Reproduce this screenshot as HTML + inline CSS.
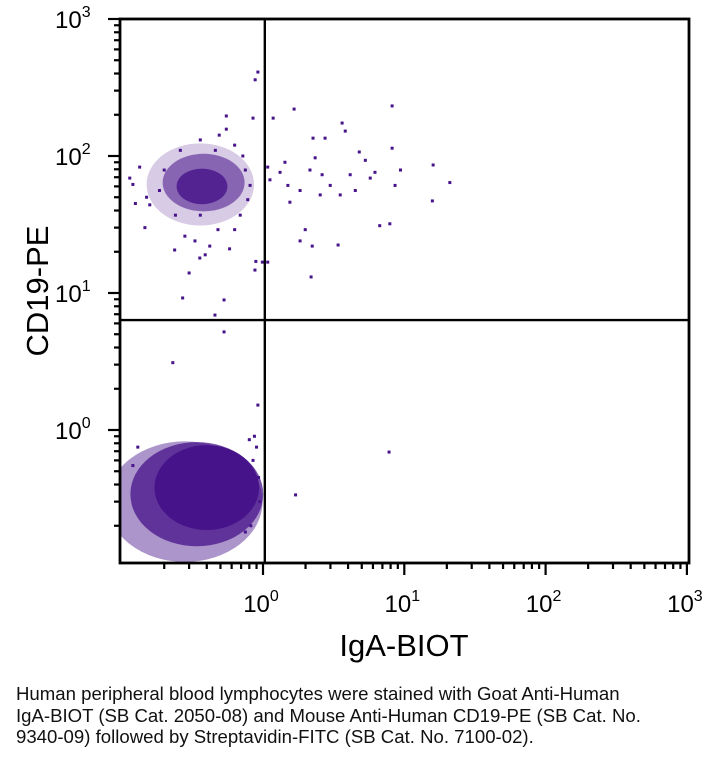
<!DOCTYPE html>
<html><head><meta charset="utf-8"><style>
html,body{margin:0;padding:0;background:#fff;}
body{width:716px;height:757px;overflow:hidden;position:relative;font-family:"Liberation Sans","DejaVu Sans",sans-serif;}
.cap{position:absolute;left:16px;top:683px;font-size:18.6px;line-height:21.5px;color:#111;width:700px;white-space:nowrap;}
</style></head><body>
<svg id="chart" width="716" height="680" style="position:absolute;left:0;top:0" font-family="Liberation Sans, DejaVu Sans, sans-serif"></svg>
<div class="cap">Human peripheral blood lymphocytes were stained with Goat Anti-Human<br>IgA-BIOT (SB Cat. 2050-08) and Mouse Anti-Human CD19-PE (SB Cat. No.<br>9340-09) followed by Streptavidin-FITC (SB Cat. No. 7100-02).</div>
<script>
// ---- data ----
const xTickExps = [0, 1, 2, 3];
const yTickExps = [0, 1, 2, 3];
const gateX = 1.03;
const gateY = 6.35;
// dense populations summarised as ellipses (center in data units, radii in decades, opacity)
const popCx = [0.28, 0.34, 0.40, 0.36, 0.38, 0.37];
const popCy = [0.30, 0.34, 0.38, 62, 64, 60];
const popRx = [0.55, 0.47, 0.37, 0.38, 0.29, 0.18];
const popRy = [0.44, 0.38, 0.31, 0.30, 0.21, 0.13];
const popOp = [0.45, 0.75, 1.0, 0.22, 0.55, 0.8];
// individual events
const evX = [8.2,1.66,1.18,3.63,3.82,2.26,2.75,8.2,4.8,5.3,16,21,15.8,7.9,6.7,1.99,2.23,3.4,2.19,1.83,1.55,2.15,2.99,4.14,5.74,1.83,1.32,1.5,2.54,3.52,4.5,6.2,9.4,8.6,1.43,1.08,1.12,2.34,2.62,0.99,1.08,1.7,7.8,0.53,0.457,0.53,0.23,0.92,0.877,0.89,0.55,0.85,0.55,0.36,0.49,0.92,0.88,
 0.114,0.134,0.146,0.158,0.15,0.237,0.28,0.357,0.42,0.48,0.36,0.63,0.69,0.78,0.81,0.75,0.63,0.46,0.26,0.2,0.185,0.24,0.33,0.39,0.58,0.12,0.125,0.72,0.3,0.27,
 0.87,0.9,0.8,0.85,0.93,0.95,0.13,0.12,0.75,0.82];
const evY = [232,220,189,174,152,135,135,114,107,93,86,64,47,32,31,29,22,22.4,13.1,24,46,79,61,73,69,56,76,61,52,52,56,76,79,61,90,83,67,97,73,16.8,16.8,0.336,0.69,8.9,6.9,5.2,3.1,1.52,14.7,17,196,189,157,131,142,410,360,
 69,83,30,44,50,20.6,26,18,22,29,37,29,37,48,61,79,120,110,110,79,56,37,24,19,21,62,45,100,14,9.2,
 0.9,0.75,0.85,0.6,0.45,0.3,0.75,0.55,0.18,0.2];

// ---- scales ----
const X0=120,X1=689,Y0=19,Y1=563;
const xpx=v=>263+Math.log10(v)*141.3;
const ypx=v=>430-Math.log10(v)*137;
const NS="http://www.w3.org/2000/svg";
const svg=document.getElementById('chart');
function mk(t,a,p){const e=document.createElementNS(NS,t);for(const k in a)e.setAttribute(k,a[k]);(p||svg).appendChild(e);return e;}
const COL="#47138a";

const defs=mk('defs',{});
const cp=mk('clipPath',{id:'plotclip'},defs);
mk('rect',{x:X0,y:Y0,width:X1-X0,height:Y1-Y0},cp);
const g=mk('g',{'clip-path':'url(#plotclip)'});



for(let i=0;i<popCx.length;i++){
  const cx=xpx(popCx[i]),cy=ypx(popCy[i]);
  const e=mk('ellipse',{cx:cx,cy:cy,rx:popRx[i]*141.3,ry:popRy[i]*137,fill:COL,'fill-opacity':popOp[i]},g);
  
  
}
for(let i=0;i<evX.length;i++){
  const r=mk('rect',{x:xpx(evX[i])-1.5,y:ypx(evY[i])-1.5,width:3,height:3,fill:COL},g);
  
  
}

// quadrant gates
const gv=mk('line',{x1:xpx(gateX),x2:xpx(gateX),y1:Y0,y2:Y1,stroke:'#000','stroke-width':2.4});


const gh=mk('line',{x1:X0,x2:X1,y1:ypx(gateY),y2:ypx(gateY),stroke:'#000','stroke-width':2.4});



// frame
const fr=mk('rect',{x:X0,y:Y0,width:X1-X0,height:Y1-Y0,fill:'none',stroke:'#000','stroke-width':2.8});



// ticks
const tg=mk('g',{stroke:'#000','stroke-width':2.2});


for(let d=-1;d<3;d++){
  for(let m=1;m<10;m++){
    const v=m*Math.pow(10,d);
    const px=xpx(v), py=ypx(v);
    const len=(m===1)?12:6;
    if(px>=X0+2&&px<=X1+1) mk('line',{x1:px,x2:px,y1:Y1,y2:Y1+len},tg);
    if(py<=Y1-2&&py>=Y0-1) mk('line',{x1:X0,x2:X0-len,y1:py,y2:py},tg);
  }
}
mk('line',{x1:xpx(1000),x2:xpx(1000),y1:Y1,y2:Y1+12},tg);
mk('line',{x1:X0,x2:X0-12,y1:ypx(1000),y2:ypx(1000)},tg);

// tick labels
xTickExps.forEach(e=>{
  const t=mk('text',{x:xpx(Math.pow(10,e))-2,y:612,'text-anchor':'middle','font-size':24,fill:'#000'});
  
  
  t.innerHTML='10<tspan dy="-11" font-size="16">'+e+'</tspan>';
});
yTickExps.forEach(e=>{
  const t=mk('text',{x:55,y:ypx(Math.pow(10,e))+9,'text-anchor':'start','font-size':24,fill:'#000'});
  
  
  t.innerHTML='10<tspan dy="-11" font-size="16">'+e+'</tspan>';
});
const xt=mk('text',{x:404,y:656,'text-anchor':'middle','font-size':31,fill:'#000'});
xt.textContent='IgA-BIOT';


const yt=mk('text',{x:0,y:0,'text-anchor':'middle','font-size':31,fill:'#000',transform:'translate(48,291) rotate(-90)'});
yt.textContent='CD19-PE';


</script>
</body></html>
